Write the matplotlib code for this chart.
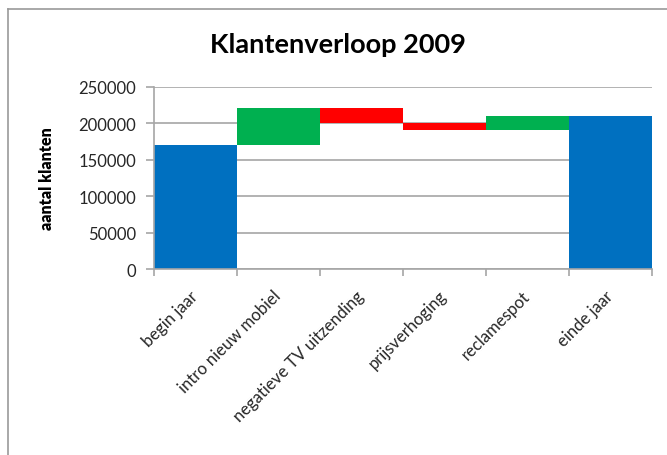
import numpy as np
import matplotlib.pyplot as plt
from matplotlib.lines import Line2D

plt.rcParams['font.family'] = ['Lato', 'DejaVu Sans']

# waterfall data
categories = ['begin jaar', 'intro nieuw mobiel', 'negatieve TV uitzending',
              'prijsverhoging', 'reclamespot', 'einde jaar']
begin_jaar = 170000
changes = [50000, -20000, -10000, 20000]
einde_jaar = 210000

blue = '#0070C0'
green = '#00B050'
red = '#FF0000'

fig = plt.figure(figsize=(6.67, 4.56), dpi=100)
ax = fig.add_axes([154 / 667, 1 - 270.3 / 456, (652 - 154) / 667, (270.3 - 87.5) / 456])

x = np.arange(len(categories))
ax.bar(x[0], begin_jaar, width=1.0, color=blue, zorder=2)
level = begin_jaar
for i, d in enumerate(changes):
    ax.bar(x[i + 1], abs(d), bottom=min(level, level + d), width=1.0,
           color=green if d > 0 else red, zorder=2)
    level += d
ax.bar(x[-1], einde_jaar, width=1.0, color=blue, zorder=2)

ax.set_xlim(-0.5, len(categories) - 0.5)
ax.set_ylim(0, 250000)
ax.set_yticks(range(0, 250001, 50000))
ax.yaxis.grid(True, color='#a6a6a6', linewidth=1.2, zorder=0)
ax.set_axisbelow(True)

for s in ['top', 'right']:
    ax.spines[s].set_visible(False)
for s in ['left', 'bottom']:
    ax.spines[s].set_color('#a6a6a6')
    ax.spines[s].set_linewidth(1.2)

# ticks at category boundaries, labels at centres
ax.set_xticks(np.arange(-0.5, len(categories)), minor=False)
ax.set_xticklabels([])
ax.set_xticks(x, minor=True)
ax.set_xticklabels(categories, minor=True, rotation=45, ha='right', va='center',
                   rotation_mode='anchor', fontsize=12, color='#262626')
ax.tick_params(axis='x', which='minor', length=0, pad=17)
ax.tick_params(axis='x', which='major', length=5, color='#a6a6a6', width=1.2)
ax.tick_params(axis='y', length=6, color='#a6a6a6', width=1.2, labelsize=12, pad=7,
               labelcolor='#262626')

ax.set_ylabel('aantal klanten', fontsize=11.5, fontweight='heavy', labelpad=17)
fig.text(338 / 667, 1 - 45 / 456, 'Klantenverloop 2009', ha='center', va='center',
         fontsize=19.5, fontweight='bold')

# chart frame (cropped on right/bottom)
fig.add_artist(Line2D([8 / 667, 1], [1 - 9.5 / 456] * 2, color='#999999', lw=1.2,
                      transform=fig.transFigure))
fig.add_artist(Line2D([8 / 667] * 2, [0, 1 - 9.5 / 456], color='#999999', lw=1.2,
                      transform=fig.transFigure))

fig.savefig('out.png', dpi=100)
